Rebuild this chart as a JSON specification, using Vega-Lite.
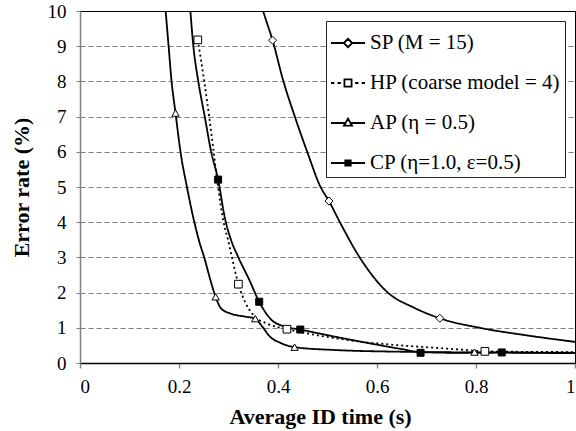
{
  "$schema": "https://vega.github.io/schema/vega-lite/v6.json",
  "autosize": {"type": "none"},
  "width": 495,
  "height": 352,
  "padding": {"left": 80, "top": 11, "right": 1, "bottom": 68},
  "background": "white",
  "config": {
    "font": "Times New Roman, Liberation Serif, serif",
    "view": {"stroke": "black", "strokeWidth": 1},
    "axis": {
      "labelFont": "Times New Roman, Liberation Serif, serif",
      "titleFont": "Times New Roman, Liberation Serif, serif",
      "labelColor": "black",
      "titleColor": "black",
      "labelFontSize": 19,
      "titleFontSize": 22,
      "titleFontWeight": "bold"
    },
    "legend": {
      "labelFont": "Times New Roman, Liberation Serif, serif",
      "labelFontSize": 21,
      "labelColor": "black"
    }
  },
  "resolve": {"scale": {"shape": "independent"}},
  "datasets": {
    "curves": [
      {"series": "SP (M = 15)", "x": 0.360, "y": 10.5},
      {"series": "SP (M = 15)", "x": 0.370, "y": 10.0},
      {"series": "SP (M = 15)", "x": 0.389, "y": 9.17},
      {"series": "SP (M = 15)", "x": 0.411, "y": 8.0},
      {"series": "SP (M = 15)", "x": 0.434, "y": 7.0},
      {"series": "SP (M = 15)", "x": 0.459, "y": 6.0},
      {"series": "SP (M = 15)", "x": 0.486, "y": 5.0},
      {"series": "SP (M = 15)", "x": 0.503, "y": 4.6},
      {"series": "SP (M = 15)", "x": 0.525, "y": 4.0},
      {"series": "SP (M = 15)", "x": 0.565, "y": 3.0},
      {"series": "SP (M = 15)", "x": 0.622, "y": 2.0},
      {"series": "SP (M = 15)", "x": 0.675, "y": 1.57},
      {"series": "SP (M = 15)", "x": 0.727, "y": 1.27},
      {"series": "SP (M = 15)", "x": 0.811, "y": 0.99},
      {"series": "SP (M = 15)", "x": 0.900, "y": 0.79},
      {"series": "SP (M = 15)", "x": 1.000, "y": 0.60},

      {"series": "HP (coarse model = 4)", "x": 0.238, "y": 9.18},
      {"series": "HP (coarse model = 4)", "x": 0.251, "y": 8.0},
      {"series": "HP (coarse model = 4)", "x": 0.261, "y": 7.0},
      {"series": "HP (coarse model = 4)", "x": 0.270, "y": 6.0},
      {"series": "HP (coarse model = 4)", "x": 0.279, "y": 5.0},
      {"series": "HP (coarse model = 4)", "x": 0.290, "y": 4.0},
      {"series": "HP (coarse model = 4)", "x": 0.299, "y": 3.5},
      {"series": "HP (coarse model = 4)", "x": 0.307, "y": 3.0},
      {"series": "HP (coarse model = 4)", "x": 0.320, "y": 2.24},
      {"series": "HP (coarse model = 4)", "x": 0.334, "y": 1.72},
      {"series": "HP (coarse model = 4)", "x": 0.349, "y": 1.38},
      {"series": "HP (coarse model = 4)", "x": 0.378, "y": 1.12},
      {"series": "HP (coarse model = 4)", "x": 0.418, "y": 0.96},
      {"series": "HP (coarse model = 4)", "x": 0.452, "y": 0.86},
      {"series": "HP (coarse model = 4)", "x": 0.547, "y": 0.64},
      {"series": "HP (coarse model = 4)", "x": 0.648, "y": 0.50},
      {"series": "HP (coarse model = 4)", "x": 0.720, "y": 0.43},
      {"series": "HP (coarse model = 4)", "x": 0.780, "y": 0.37},
      {"series": "HP (coarse model = 4)", "x": 0.818, "y": 0.33},
      {"series": "HP (coarse model = 4)", "x": 1.000, "y": 0.31},

      {"series": "AP (η = 0.5)", "x": 0.167, "y": 11.0},
      {"series": "AP (η = 0.5)", "x": 0.173, "y": 10.0},
      {"series": "AP (η = 0.5)", "x": 0.179, "y": 9.0},
      {"series": "AP (η = 0.5)", "x": 0.185, "y": 8.0},
      {"series": "AP (η = 0.5)", "x": 0.193, "y": 7.1},
      {"series": "AP (η = 0.5)", "x": 0.203, "y": 6.0},
      {"series": "AP (η = 0.5)", "x": 0.216, "y": 5.0},
      {"series": "AP (η = 0.5)", "x": 0.231, "y": 4.0},
      {"series": "AP (η = 0.5)", "x": 0.241, "y": 3.45},
      {"series": "AP (η = 0.5)", "x": 0.252, "y": 2.95},
      {"series": "AP (η = 0.5)", "x": 0.263, "y": 2.38},
      {"series": "AP (η = 0.5)", "x": 0.274, "y": 1.88},
      {"series": "AP (η = 0.5)", "x": 0.285, "y": 1.55},
      {"series": "AP (η = 0.5)", "x": 0.305, "y": 1.40},
      {"series": "AP (η = 0.5)", "x": 0.333, "y": 1.32},
      {"series": "AP (η = 0.5)", "x": 0.354, "y": 1.26},
      {"series": "AP (η = 0.5)", "x": 0.369, "y": 1.02},
      {"series": "AP (η = 0.5)", "x": 0.383, "y": 0.76},
      {"series": "AP (η = 0.5)", "x": 0.405, "y": 0.57},
      {"series": "AP (η = 0.5)", "x": 0.4335, "y": 0.45},
      {"series": "AP (η = 0.5)", "x": 0.513, "y": 0.37},
      {"series": "AP (η = 0.5)", "x": 0.648, "y": 0.32},
      {"series": "AP (η = 0.5)", "x": 0.797, "y": 0.30},
      {"series": "AP (η = 0.5)", "x": 1.000, "y": 0.28},

      {"series": "CP (η=1.0, ε=0.5)", "x": 0.218, "y": 11.0},
      {"series": "CP (η=1.0, ε=0.5)", "x": 0.223, "y": 10.0},
      {"series": "CP (η=1.0, ε=0.5)", "x": 0.229, "y": 9.0},
      {"series": "CP (η=1.0, ε=0.5)", "x": 0.239, "y": 8.0},
      {"series": "CP (η=1.0, ε=0.5)", "x": 0.252, "y": 7.0},
      {"series": "CP (η=1.0, ε=0.5)", "x": 0.265, "y": 6.0},
      {"series": "CP (η=1.0, ε=0.5)", "x": 0.279, "y": 5.21},
      {"series": "CP (η=1.0, ε=0.5)", "x": 0.293, "y": 4.1},
      {"series": "CP (η=1.0, ε=0.5)", "x": 0.305, "y": 3.5},
      {"series": "CP (η=1.0, ε=0.5)", "x": 0.320, "y": 3.0},
      {"series": "CP (η=1.0, ε=0.5)", "x": 0.342, "y": 2.36},
      {"series": "CP (η=1.0, ε=0.5)", "x": 0.362, "y": 1.74},
      {"series": "CP (η=1.0, ε=0.5)", "x": 0.385, "y": 1.25},
      {"series": "CP (η=1.0, ε=0.5)", "x": 0.412, "y": 1.04},
      {"series": "CP (η=1.0, ε=0.5)", "x": 0.445, "y": 0.95},
      {"series": "CP (η=1.0, ε=0.5)", "x": 0.500, "y": 0.79},
      {"series": "CP (η=1.0, ε=0.5)", "x": 0.547, "y": 0.66},
      {"series": "CP (η=1.0, ε=0.5)", "x": 0.600, "y": 0.52},
      {"series": "CP (η=1.0, ε=0.5)", "x": 0.648, "y": 0.40},
      {"series": "CP (η=1.0, ε=0.5)", "x": 0.688, "y": 0.31},
      {"series": "CP (η=1.0, ε=0.5)", "x": 0.760, "y": 0.29},
      {"series": "CP (η=1.0, ε=0.5)", "x": 0.852, "y": 0.30},
      {"series": "CP (η=1.0, ε=0.5)", "x": 1.000, "y": 0.29}
    ],
    "markers": [
      {"series": "SP (M = 15)", "x": 0.389, "y": 9.17},
      {"series": "SP (M = 15)", "x": 0.503, "y": 4.6},
      {"series": "SP (M = 15)", "x": 0.727, "y": 1.27},
      {"series": "HP (coarse model = 4)", "x": 0.238, "y": 9.18},
      {"series": "HP (coarse model = 4)", "x": 0.320, "y": 2.24},
      {"series": "HP (coarse model = 4)", "x": 0.418, "y": 0.96},
      {"series": "HP (coarse model = 4)", "x": 0.818, "y": 0.33},
      {"series": "AP (η = 0.5)", "x": 0.193, "y": 7.1},
      {"series": "AP (η = 0.5)", "x": 0.274, "y": 1.88},
      {"series": "AP (η = 0.5)", "x": 0.354, "y": 1.26},
      {"series": "AP (η = 0.5)", "x": 0.4335, "y": 0.45},
      {"series": "AP (η = 0.5)", "x": 0.797, "y": 0.31},
      {"series": "CP (η=1.0, ε=0.5)", "x": 0.279, "y": 5.21},
      {"series": "CP (η=1.0, ε=0.5)", "x": 0.362, "y": 1.74},
      {"series": "CP (η=1.0, ε=0.5)", "x": 0.445, "y": 0.95},
      {"series": "CP (η=1.0, ε=0.5)", "x": 0.688, "y": 0.29},
      {"series": "CP (η=1.0, ε=0.5)", "x": 0.852, "y": 0.30}
    ]
  },
  "encoding": {
    "x": {
      "field": "x", "type": "quantitative",
      "scale": {"domain": [0, 1], "nice": false, "zero": false},
      "axis": {
        "title": "Average ID time (s)",
        "values": [0, 0.2, 0.4, 0.6, 0.8, 1],
        "format": "~g",
        "grid": false,
        "domainColor": "black", "domainWidth": 1.5,
        "tickColor": "#888888", "tickSize": 5, "tickWidth": 1.5,
        "labelPadding": 9,
        "titlePadding": 10,
        "titleX": 240
      }
    },
    "y": {
      "field": "y", "type": "quantitative",
      "scale": {"domain": [0, 10], "nice": false},
      "axis": {
        "title": "Error rate (%)",
        "values": [0, 1, 2, 3, 4, 5, 6, 7, 8, 9, 10],
        "grid": true,
        "gridColor": "#808080",
        "gridDash": [5, 3],
        "gridWidth": 1,
        "gridOpacity": {"condition": {"test": "datum.value === 0 || datum.value === 10", "value": 0}, "value": 1},
        "domainColor": "#808080", "domainWidth": 1.5,
        "tickColor": "#808080", "tickSize": 4, "tickWidth": 1,
        "labelPadding": 10,
        "titlePadding": 14
      }
    }
  },
  "layer": [
    {
      "data": {"name": "curves"},
      "mark": {"type": "line", "interpolate": "monotone", "clip": true, "color": "black", "strokeWidth": 1.8},
      "encoding": {
        "detail": {"field": "series"},
        "strokeDash": {
          "field": "series", "type": "nominal",
          "scale": {
            "domain": ["SP (M = 15)", "HP (coarse model = 4)", "AP (η = 0.5)", "CP (η=1.0, ε=0.5)"],
            "range": [[1, 0], [2, 3], [1, 0], [1, 0]]
          },
          "legend": null
        }
      }
    },
    {
      "data": {"name": "markers"},
      "mark": {"type": "point", "filled": false, "clip": true, "stroke": "black", "strokeWidth": 1, "opacity": 1},
      "encoding": {
        "shape": {
          "field": "series", "type": "nominal",
          "scale": {
            "domain": ["SP (M = 15)", "HP (coarse model = 4)", "AP (η = 0.5)", "CP (η=1.0, ε=0.5)"],
            "range": ["diamond", "square", "triangle-up", "square"]
          },
          "legend": null
        },
        "fill": {
          "field": "series", "type": "nominal",
          "scale": {
            "domain": ["SP (M = 15)", "HP (coarse model = 4)", "AP (η = 0.5)", "CP (η=1.0, ε=0.5)"],
            "range": ["white", "white", "white", "black"]
          },
          "legend": null
        },
        "size": {
          "field": "series", "type": "nominal",
          "scale": {
            "domain": ["SP (M = 15)", "HP (coarse model = 4)", "AP (η = 0.5)", "CP (η=1.0, ε=0.5)"],
            "range": [64, 49, 60, 30]
          },
          "legend": null
        }
      }
    },
    {
      "data": {"name": "markers"},
      "transform": [{"filter": "datum.x > 5"}],
      "mark": {"type": "point", "filled": false, "stroke": "black", "strokeWidth": 1.8, "opacity": 1},
      "encoding": {
        "shape": {
          "field": "series", "type": "nominal",
          "scale": {
            "domain": ["SP (M = 15)", "HP (coarse model = 4)", "AP (η = 0.5)", "CP (η=1.0, ε=0.5)"],
            "range": [
              "M-1,0L-0.25,0M0.25,0L1,0M0,-0.25L0.25,0L0,0.25L-0.25,0Z",
              "M-1,0L-0.8,0M-0.62,0L-0.42,0M0.42,0L0.62,0M0.8,0L1,0M-0.21,-0.21L0.21,-0.21L0.21,0.21L-0.21,0.21Z",
              "M-1,0L-0.17,0M0.17,0L1,0M0,-0.26L0.24,0.16L-0.24,0.16Z",
              "M-1,0L1,0M-0.16,-0.16L0.16,-0.16L0.16,0.16L-0.16,0.16ZM-0.16,-0.08L0.16,-0.08M-0.16,0.08L0.16,0.08"
            ]
          },
          "legend": {
            "title": null,
            "orient": "top-right",
            "offset": 10,
            "padding": 4,
            "fillColor": "white",
            "strokeColor": "#222222",
            "labelFont": "Times New Roman, Liberation Serif, serif",
            "labelFontSize": 21,
            "labelColor": "black",
            "labelOffset": 4,
            "labelLimit": 400,
            "symbolSize": 1156,
            "symbolStrokeColor": "black",
            "symbolFillColor": "white",
            "symbolStrokeWidth": 1.8,
            "symbolOpacity": 1,
            "rowPadding": 12
          }
        }
      }
    }
  ]
}
